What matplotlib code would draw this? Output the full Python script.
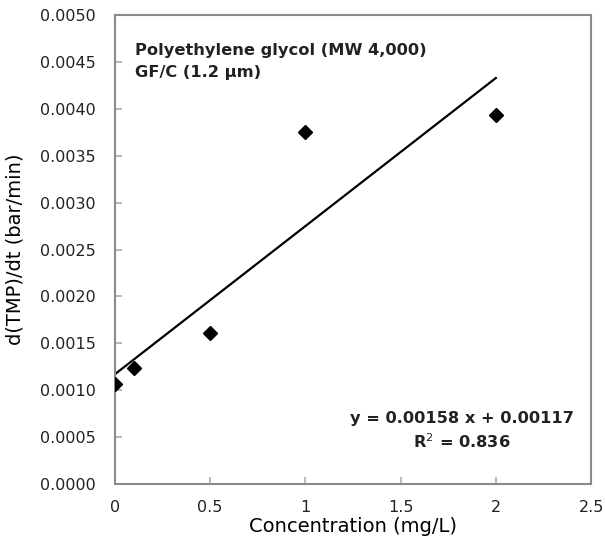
import numpy as np
import matplotlib.pyplot as plt

# PEG 4,000 fouling rate data
conc = [0.0, 0.1, 0.5, 1.0, 2.0]
rate = [0.00107, 0.00124, 0.00161, 0.00375, 0.00393]
slope = 0.00158
intercept = 0.00117
r2 = 0.836

fig = plt.figure(figsize=(6.05, 5.43), dpi=100)
ax = fig.add_axes([0.190, 0.109, 0.787, 0.863])

ax.plot(conc, rate, 'D', color='black', markersize=7, zorder=3)
xfit = np.array([0.0, 2.0])
ax.plot(xfit, slope * xfit + intercept, color='black', linewidth=1.6)

ax.set_xlim(0, 2.5)
ax.set_ylim(0, 0.005)
ax.set_xticks([0, 0.5, 1, 1.5, 2, 2.5])
ax.set_xticklabels(['0', '0.5', '1', '1.5', '2', '2.5'])
yt = np.arange(0, 0.00501, 0.0005)
ax.set_yticks(yt)
ax.set_yticklabels([f'{v:.4f}' for v in yt])

for s in ax.spines.values():
    s.set_color('#8a8a8a')
    s.set_linewidth(1.5)
ax.tick_params(direction='in', length=5, width=1.2, color='#aaaaaa',
               labelsize=11.5, labelcolor='#222222')
ax.tick_params(axis='y', pad=14)
ax.tick_params(axis='x', pad=12)

ax.set_xlabel('Concentration (mg/L)', fontsize=14, labelpad=1)
ax.set_ylabel('d(TMP)/dt (bar/min)', fontsize=14, labelpad=11)

# sample description, upper left
ax.text(0.042, 0.915, 'Polyethylene glycol (MW 4,000)', transform=ax.transAxes,
        fontsize=11.7, fontweight='bold', color='#222222', va='baseline', ha='left')
ax.text(0.042, 0.868, 'GF/C (1.2 \u03bcm)', transform=ax.transAxes,
        fontsize=11.7, fontweight='bold', color='#222222', va='baseline', ha='left')

# regression equation, lower right
ax.text(0.729, 0.130, f'y = {slope:.5f} x + {intercept:.5f}', transform=ax.transAxes,
        fontsize=11.7, fontweight='bold', color='#222222', va='baseline', ha='center')
ax.text(0.729, 0.077, f'R$^2$ = {r2:.3f}', transform=ax.transAxes,
        fontsize=11.7, fontweight='bold', color='#222222', va='baseline', ha='center')

fig.savefig('out.png', dpi=100)
